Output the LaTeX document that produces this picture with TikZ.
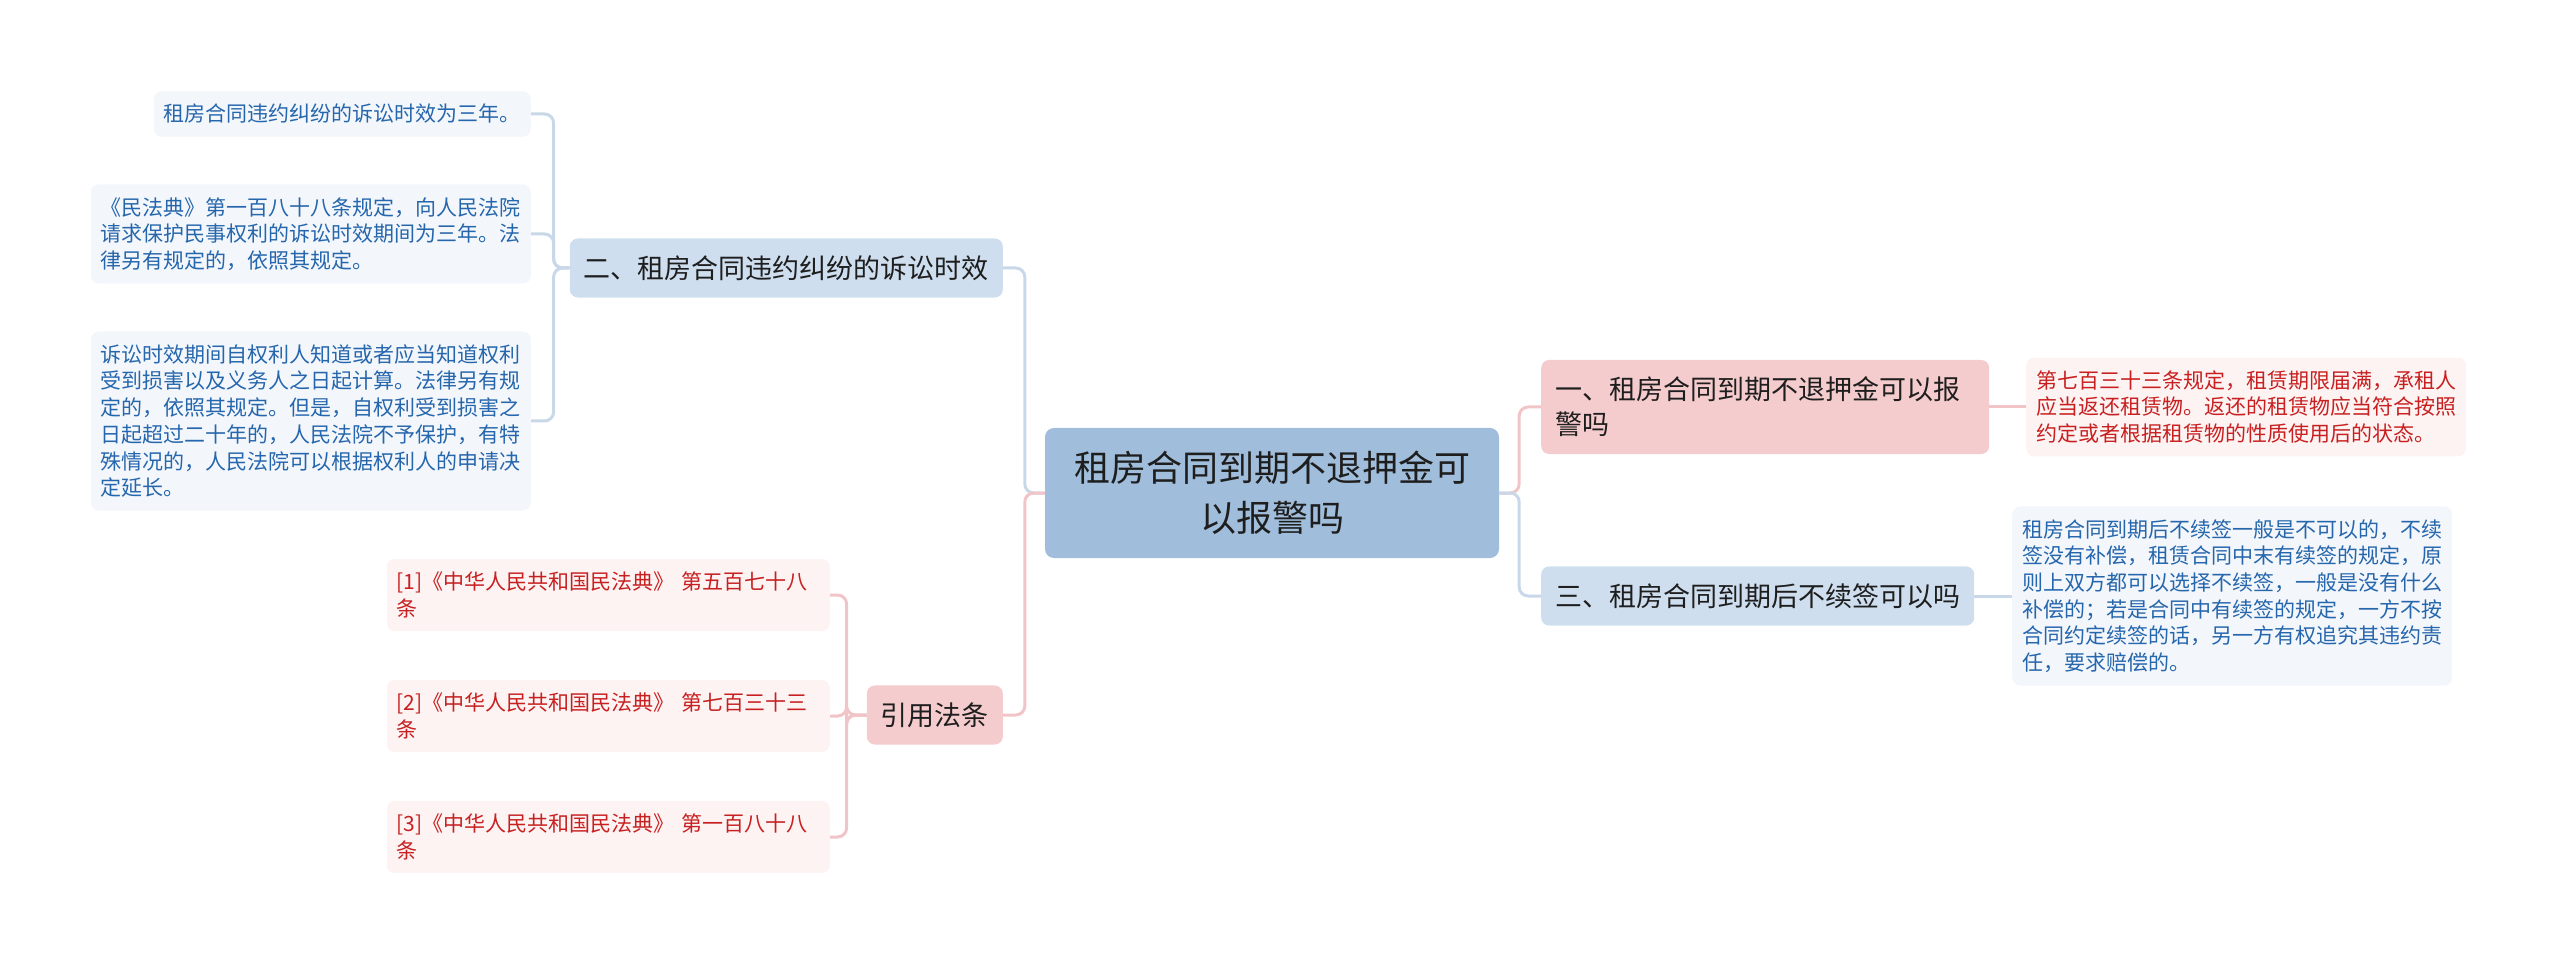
\documentclass[tikz,border=0pt]{standalone}
\usepackage{fontspec}
\newfontfamily\cjk{Noto Sans CJK SC}

\definecolor{rootfill}{RGB}{160,190,219}
\definecolor{bluefill}{RGB}{206,222,238}
\definecolor{pinkfill}{RGB}{245,204,206}
\definecolor{leafblue}{RGB}{243,247,252}
\definecolor{leafpink}{RGB}{253,243,243}
\definecolor{bluetext}{RGB}{38,102,172}
\definecolor{redtext}{RGB}{200,32,32}
\definecolor{blueline}{RGB}{200,216,233}
\definecolor{pinkline}{RGB}{241,196,199}
\definecolor{darktext}{RGB}{30,30,30}

\begin{document}
\begin{tikzpicture}[x=1pt, y=-1pt,
    rootbox/.style={rectangle, rounded corners=9pt, fill=rootfill, text=darktext,
        font=\cjk\fontsize{36}{50}\selectfont, align=center,
        minimum width=454, minimum height=130},
    branch/.style={rectangle, rounded corners=8pt, text=darktext,
        font=\cjk\fontsize{27}{35}\selectfont, inner xsep=14, inner ysep=17},
    leaf/.style={rectangle, rounded corners=8pt, align=left,
        font=\cjk\fontsize{21}{26.7}\selectfont, inner xsep=10, inner ysep=13},
    leafb/.style={leaf, fill=leafblue, text=bluetext},
    leafr/.style={leaf, fill=leafpink, text=redtext},
    bluelink/.style={draw=blueline, line width=3, rounded corners=9pt},
    pinklink/.style={draw=pinkline, line width=3, rounded corners=9pt}]
    \useasboundingbox (0,0) rectangle (2560,965);
    % ==== ROOT ====
    \node[rootbox] (root) at (1272,493) {租房合同到期不退押金可\\以报警吗};
    % ==== BRANCHES ====
    \node[branch, fill=bluefill, anchor=east] (lawtime) at (1003,268) {二、租房合同违约纠纷的诉讼时效};
    \node[branch, fill=pinkfill, anchor=east] (cite) at (1003,715) {引用法条};
    \node[branch, fill=pinkfill, anchor=west, align=left, text width=420] (deposit) at (1541,407)
        {一、租房合同到期不退押金可以报\\警吗};
    \node[branch, fill=bluefill, anchor=west] (renew) at (1541,596) {三、租房合同到期后不续签可以吗};
    % ==== LEAVES LEFT ====
    \node[leafb, anchor=east] (limit) at (531,114) {租房合同违约纠纷的诉讼时效为三年。};
    \node[leafb, anchor=east, text width=420] (code) at (531,234)
        {《民法典》第一百八十八条规定，向人民法院\\请求保护民事权利的诉讼时效期间为三年。法\\律另有规定的，依照其规定。};
    \node[leafb, anchor=east, text width=420] (period) at (531,421)
        {诉讼时效期间自权利人知道或者应当知道权利\\受到损害以及义务人之日起计算。法律另有规\\定的，依照其规定。但是，自权利受到损害之\\日起超过二十年的，人民法院不予保护，有特\\殊情况的，人民法院可以根据权利人的申请决\\定延长。};
    \node[leafr, anchor=east, text width=423] (refa) at (830,595) {[1]《中华人民共和国民法典》 第五百七十八\\条};
    \node[leafr, anchor=east, text width=423] (refb) at (830,716) {[2]《中华人民共和国民法典》 第七百三十三\\条};
    \node[leafr, anchor=east, text width=423] (refc) at (830,837) {[3]《中华人民共和国民法典》 第一百八十八\\条};
    % ==== LEAVES RIGHT ====
    \node[leafr, anchor=west, text width=420] (art) at (2026,407)
        {第七百三十三条规定，租赁期限届满，承租人\\应当返还租赁物。返还的租赁物应当符合按照\\约定或者根据租赁物的性质使用后的状态。};
    \node[leafb, anchor=west, text width=420] (nosign) at (2012,596)
        {租房合同到期后不续签一般是不可以的，不续\\签没有补偿，租赁合同中末有续签的规定，原\\则上双方都可以选择不续签，一般是没有什么\\补偿的；若是合同中有续签的规定，一方不按\\合同约定续签的话，另一方有权追究其违约责\\任，要求赔偿的。};
    % ==== CONNECTORS ====
    \draw[bluelink] (root.west) -- ++(-20,0) |- (lawtime.east);
    \draw[pinklink] (root.west) -- ++(-20,0) |- (cite.east);
    \draw[pinklink] (root.east) -- ++(20,0) |- (deposit.west);
    \draw[bluelink] (root.east) -- ++(20,0) |- (renew.west);
    \foreach \leafname in {limit,code,period}
        \draw[bluelink] (lawtime.west) -- ++(-16,0) |- (\leafname.east);
    \foreach \leafname in {refa,refb,refc}
        \draw[pinklink] (cite.west) -- ++(-20,0) |- (\leafname.east);
    \draw[pinklink] (deposit.east) -- (art.west);
    \draw[bluelink] (renew.east) -- (nosign.west);
\end{tikzpicture}
\end{document}
